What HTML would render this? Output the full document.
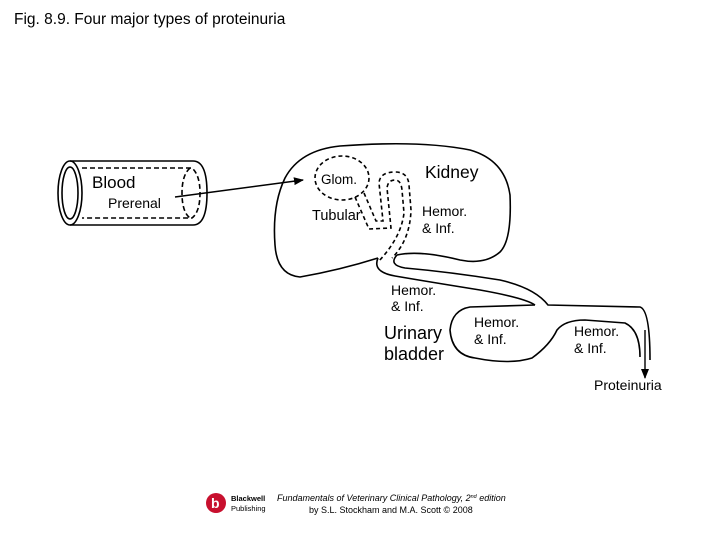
<!DOCTYPE html>
<html><head><meta charset="utf-8"><style>
html,body{margin:0;padding:0;background:#fff;width:720px;height:540px;overflow:hidden}
svg{display:block}
text{font-family:"Liberation Sans",Arial,sans-serif;fill:#000}
</style></head><body>
<svg width="720" height="540" viewBox="0 0 720 540" xmlns="http://www.w3.org/2000/svg">
<text x="14" y="24" font-size="15.5">Fig. 8.9. Four major types of proteinuria</text>
<defs><marker id="ah" markerWidth="10" markerHeight="10" refX="9" refY="5" orient="auto" markerUnits="userSpaceOnUse"><path d="M0,1 L10,5 L0,9 Z" fill="#000"/></marker></defs>
<g fill="none" stroke="#000" stroke-width="1.6">
<ellipse cx="70" cy="193" rx="12" ry="32"/>
<ellipse cx="70" cy="193" rx="8" ry="26"/>
<path d="M70,161 L193,161 Q207,161 207,193 Q207,225 193,225 L70,225"/>
<path d="M82,168 L192,168 Q200,175 200,193 Q200,212 192,218 L82,218" stroke-dasharray="5,3"/>
<path d="M190,168 Q182,175 182,193 Q182,212 190,218" stroke-dasharray="5,3"/>
<path d="M175,197 L303,180" marker-end="url(#ah)" stroke-width="1.4"/>
<path d="M378,258 Q340,270 300,277 Q277,275 275,245 Q272,205 285,178 Q300,150 340,146 Q420,140 470,150 Q505,160 510,195 Q512,240 500,252 Q485,265 460,260 Q420,250 397,255"/>
<path d="M378,258 Q372,272 395,276 Q430,282 480,290 Q525,298 535,305"/>
<path d="M397,255 Q388,265 405,268 Q450,272 500,280 Q535,288 548,305 L640,307 Q650,310 650,360"/>
<path d="M535,305 L470,307 Q452,310 450,330 Q452,355 475,358 Q510,365 532,358 Q550,345 557,330 Q565,320 585,320 L625,323 Q640,330 640,357"/>
<path d="M645,330 L645,378" marker-end="url(#ah)" stroke-width="1.4"/>
<ellipse cx="342" cy="178" rx="27" ry="22" stroke-dasharray="4,3"/>
<path d="M355,197 L369,229 L391,228 L387,188 Q388,180 395,180 Q401,180 402,190 L404,213 Q401,238 378,262" stroke-dasharray="4,3"/>
<path d="M364,193 L376,221 L383,221 L379,183 Q380,172 395,172 Q408,172 409,185 L411,210 Q410,240 392,258" stroke-dasharray="4,3"/>
</g>
<text x="92" y="188" font-size="17">Blood</text>
<text x="108" y="208" font-size="14">Prerenal</text>
<text x="321" y="184" font-size="13.5">Glom.</text>
<text x="425" y="178" font-size="17.5">Kidney</text>
<text x="312" y="220" font-size="14.5">Tubular</text>
<text x="422" y="216" font-size="14">Hemor.</text>
<text x="422" y="233" font-size="14">&amp; Inf.</text>
<text x="391" y="295" font-size="14">Hemor.</text>
<text x="391" y="311" font-size="14">&amp; Inf.</text>
<text x="384" y="339" font-size="18">Urinary</text>
<text x="384" y="360" font-size="18">bladder</text>
<text x="474" y="327" font-size="14">Hemor.</text>
<text x="474" y="344" font-size="14">&amp; Inf.</text>
<text x="574" y="336" font-size="14">Hemor.</text>
<text x="574" y="353" font-size="14">&amp; Inf.</text>
<text x="594" y="390" font-size="14">Proteinuria</text>
<circle cx="216" cy="503" r="10" fill="#c8102e"/>
<text x="211" y="508" font-size="14" font-weight="bold" style="fill:#fff">b</text>
<text x="231" y="501" font-size="7.5" font-weight="bold">Blackwell</text>
<text x="231" y="511" font-size="7.5">Publishing</text>
<text x="277" y="501" font-size="9" font-style="italic">Fundamentals of Veterinary Clinical Pathology, 2<tspan font-size="5.5" dy="-3">nd</tspan><tspan dy="3"> edition</tspan></text>
<text x="309" y="513" font-size="9">by S.L. Stockham and M.A. Scott © 2008</text>
</svg>
</body></html>
